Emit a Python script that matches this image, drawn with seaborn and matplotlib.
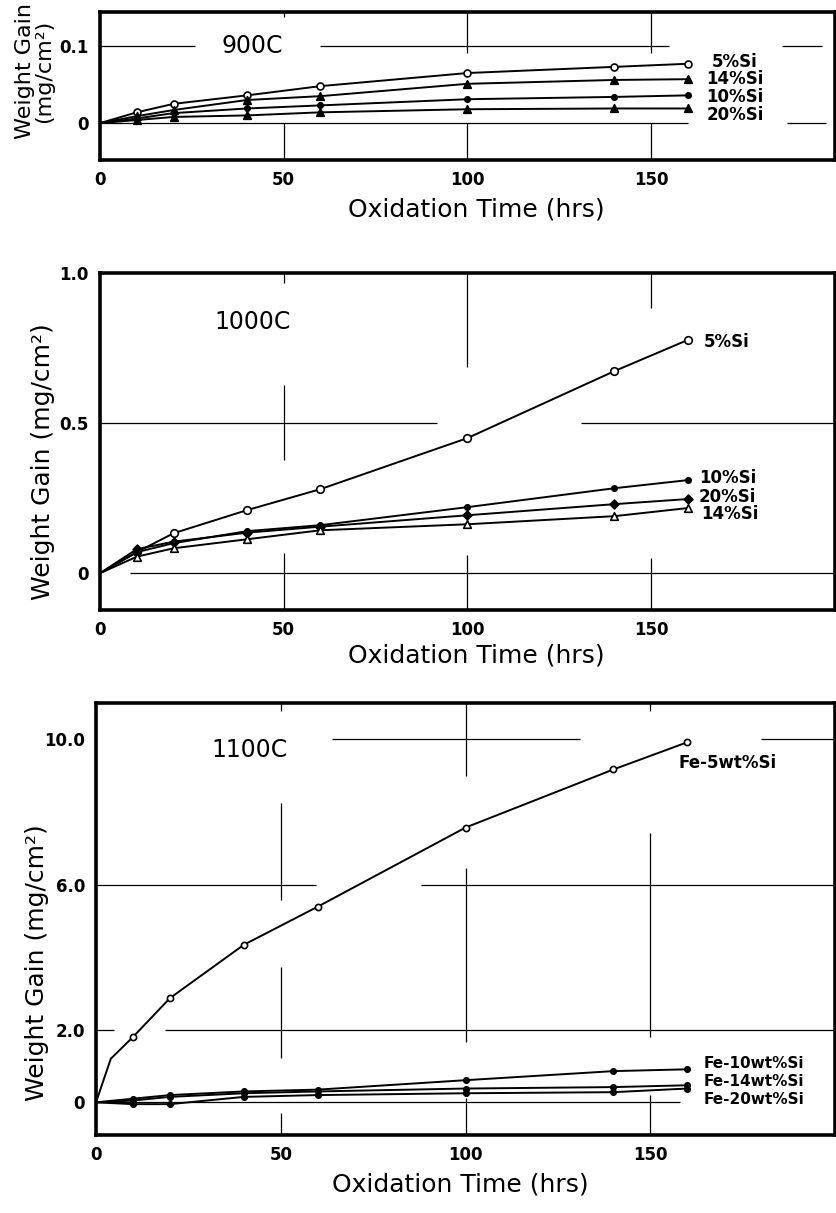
import matplotlib
matplotlib.use("Agg")
import matplotlib.pyplot as plt
import seaborn as sns

sns.set_style("white")
plt.rcParams["font.family"] = ["DejaVu Sans"]
plt.rcParams["text.color"] = "black"
plt.rcParams["axes.labelcolor"] = "black"
plt.rcParams["xtick.color"] = "black"
plt.rcParams["ytick.color"] = "black"

# sampling times (hrs)
TIME = [0, 10, 20, 40, 60, 100, 140, 160]

# 900C weight gain (mg/cm2)
G900_SI5 = [0, 0.014, 0.025, 0.036, 0.048, 0.065, 0.073, 0.077]
G900_SI14 = [0, 0.009, 0.017, 0.030, 0.035, 0.051, 0.056, 0.057]
G900_SI10 = [0, 0.006, 0.013, 0.019, 0.023, 0.031, 0.034, 0.036]
G900_SI20 = [0, 0.004, 0.008, 0.010, 0.014, 0.018, 0.019, 0.019]

# 1000C weight gain (mg/cm2)
G1000_SI5 = [0, 0.070, 0.133, 0.210, 0.280, 0.450, 0.673, 0.777]
G1000_SI10 = [0, 0.070, 0.100, 0.140, 0.160, 0.220, 0.283, 0.310]
G1000_SI20 = [0, 0.080, 0.105, 0.135, 0.155, 0.193, 0.230, 0.247]
G1000_SI14 = [0, 0.055, 0.083, 0.113, 0.143, 0.163, 0.190, 0.217]

# 1100C weight gain (mg/cm2)
G1100_SI5 = [0, 1.80, 2.87, 4.34, 5.39, 7.57, 9.17, 9.92]
G1100_SI10 = [0, 0.10, 0.20, 0.30, 0.35, 0.61, 0.86, 0.91]
G1100_SI14 = [0, 0.05, 0.15, 0.25, 0.30, 0.38, 0.42, 0.47]
G1100_SI20 = [0, -0.05, -0.05, 0.15, 0.20, 0.25, 0.28, 0.38]
# early kink of the Fe-5wt%Si curve (line only, no marker)
KINK_T = [4]
KINK_G = [1.2]

LABELS_900 = ["5%Si", "14%Si", "10%Si", "20%Si"]
LABELS_1000 = ["5%Si", "10%Si", "20%Si", "14%Si"]
LABELS_1100 = ["Fe-5wt%Si", "Fe-10wt%Si", "Fe-14wt%Si", "Fe-20wt%Si"]

X_TICKS = [0, 50, 100, 150]

# the original grid is only drawn where it doesn't cross the curves:
# (orientation, level, from, to)
GRID_900 = [
    ("h", 0.1, 0, 25.8), ("h", 0.1, 59.8, 154.9), ("h", 0.1, 185.6, 196.5),
    ("h", 0, 0, 160), ("h", 0, 187, 197.6),
    ("v", 50, -0.048, 0), ("v", 50, 0.138, 0.144),
    ("v", 100, 0.091, 0.144), ("v", 100, -0.048, 0),
    ("v", 150, 0.091, 0.144), ("v", 150, -0.048, 0),
]
GRID_1000 = [
    ("h", 0.5, 0, 91.8), ("h", 0.5, 131, 200), ("h", 0, 8.2, 200),
    ("v", 50, 0.967, 1.0), ("v", 50, 0.377, 0.627), ("v", 50, -0.123, 0.067),
    ("v", 100, 0.687, 1.0), ("v", 100, -0.123, 0.06),
    ("v", 150, 0.883, 1.0), ("v", 150, -0.123, 0.05),
]
GRID_1100 = [
    ("h", 10, 63.8, 131), ("h", 10, 180, 200),
    ("h", 6, 0, 59.5), ("h", 6, 88, 200),
    ("h", 2, 0, 4.9), ("h", 2, 18.6, 200),
    ("h", 0, 0, 158),
    ("v", 50, 10.77, 11), ("v", 50, 5.58, 8.26), ("v", 50, 1.22, 3.73),
    ("v", 50, -0.9, -0.3),
    ("v", 100, 8.98, 11), ("v", 100, 1.66, 6.46), ("v", 100, -0.9, 0.11),
    ("v", 150, 10.77, 11), ("v", 150, 1.8, 7.43), ("v", 150, -0.9, 0.19),
]


def draw_series(ax, t, g, marker, filled, size=30, line_t=None, line_g=None):
    lt = t if line_t is None else line_t
    lg = g if line_g is None else line_g
    sns.lineplot(x=lt, y=lg, ax=ax, color="black", lw=1.4, sort=True,
                 estimator=None)
    sns.scatterplot(x=t[1:], y=g[1:], ax=ax, marker=marker, s=size,
                    color="black" if filled else "white",
                    edgecolor="black", linewidth=1.2, zorder=5)


def style_axes(ax, ylim, yticks, ylabels, ylabel, grid, ylab_pos, xlab_pos,
               ylab_size=18):
    ax.set_xlim(0, 200)
    ax.set_ylim(*ylim)
    ax.set_xticks(X_TICKS)
    ax.set_xticklabels([str(v) for v in X_TICKS], fontsize=12,
                       fontweight="bold")
    ax.set_yticks(yticks)
    ax.set_yticklabels(ylabels, fontsize=12, fontweight="bold")
    ax.tick_params(length=0, pad=8)
    for kind, lvl, lo, hi in grid:
        if kind == "h":
            ax.hlines(lvl, lo, hi, color="black", lw=0.9, zorder=1)
        else:
            ax.vlines(lvl, lo, hi, color="black", lw=0.9, zorder=1)
    for s in ax.spines.values():
        s.set_linewidth(2.6)
        s.set_color("black")
    ax.set_xlabel("Oxidation Time (hrs)", fontsize=18, va="top")
    ax.xaxis.set_label_coords(*xlab_pos)
    ax.set_ylabel(ylabel, fontsize=ylab_size, linespacing=0.95)
    ax.yaxis.set_label_coords(*ylab_pos)


fig = plt.figure(figsize=(8.37, 12.13), dpi=100)
ax1 = fig.add_axes([0.1195, 0.868, 0.878, 0.122])
ax2 = fig.add_axes([0.1195, 0.497, 0.878, 0.278])
ax3 = fig.add_axes([0.1147, 0.0643, 0.883, 0.3561])

# ---- 900C ----
style_axes(ax1, (-0.048, 0.144), [0, 0.1], ["0", "0.1"],
           "Weight Gain\n(mg/cm\u00b2)", GRID_900, (-0.062, 0.60),
           (0.512, -0.25), ylab_size=16)
draw_series(ax1, TIME, G900_SI5, "o", False, 25)
draw_series(ax1, TIME, G900_SI14, "^", True, 30)
draw_series(ax1, TIME, G900_SI10, "o", True, 15)
draw_series(ax1, TIME, G900_SI20, "^", True, 30)
ax1.text(41.5, 0.1, "900C", fontsize=17, ha="center", va="center")
for lab, y, x in zip(LABELS_900, [0.079, 0.057, 0.034, 0.011],
                     [166.6, 165, 165, 165]):
    ax1.text(x, y, lab, fontsize=12, fontweight="bold", va="center")

# ---- 1000C ----
style_axes(ax2, (-0.123, 1.0), [0, 0.5, 1.0], ["0", "0.5", "1.0"],
           "Weight Gain (mg/cm\u00b2)", GRID_1000, (-0.061, 0.44),
           (0.512, -0.098))
draw_series(ax2, TIME, G1000_SI5, "o", False, 30)
draw_series(ax2, TIME, G1000_SI10, "o", True, 15)
draw_series(ax2, TIME, G1000_SI20, "D", True, 20)
draw_series(ax2, TIME, G1000_SI14, "^", False, 30)
ax2.text(41.6, 0.837, "1000C", fontsize=17, ha="center", va="center")
for lab, y, x in zip(LABELS_1000, [0.77, 0.317, 0.255, 0.197],
                     [164.4, 163, 163, 163.7]):
    ax2.text(x, y, lab, fontsize=12, fontweight="bold", va="center")

# ---- 1100C ----
style_axes(ax3, (-0.9, 11.0), [0, 2, 6, 10], ["0", "2.0", "6.0", "10.0"],
           "Weight Gain (mg/cm\u00b2)", GRID_1100, (-0.064, 0.398),
           (0.493, -0.086))
draw_series(ax3, TIME, G1100_SI5, "o", False, 20,
            line_t=TIME + KINK_T, line_g=G1100_SI5 + KINK_G)
draw_series(ax3, TIME, G1100_SI10, "o", True, 15)
draw_series(ax3, TIME, G1100_SI14, "o", True, 15)
draw_series(ax3, TIME, G1100_SI20, "o", True, 15)
ax3.text(41.6, 9.72, "1100C", fontsize=17, ha="center", va="center")
ax3.text(157.6, 9.34, LABELS_1100[0], fontsize=12, fontweight="bold",
         va="center")
for lab, y in zip(LABELS_1100[1:], [1.08, 0.58, 0.08]):
    ax3.text(164.3, y, lab, fontsize=11, fontweight="bold", va="center")

fig.savefig("out.png", dpi=100)
